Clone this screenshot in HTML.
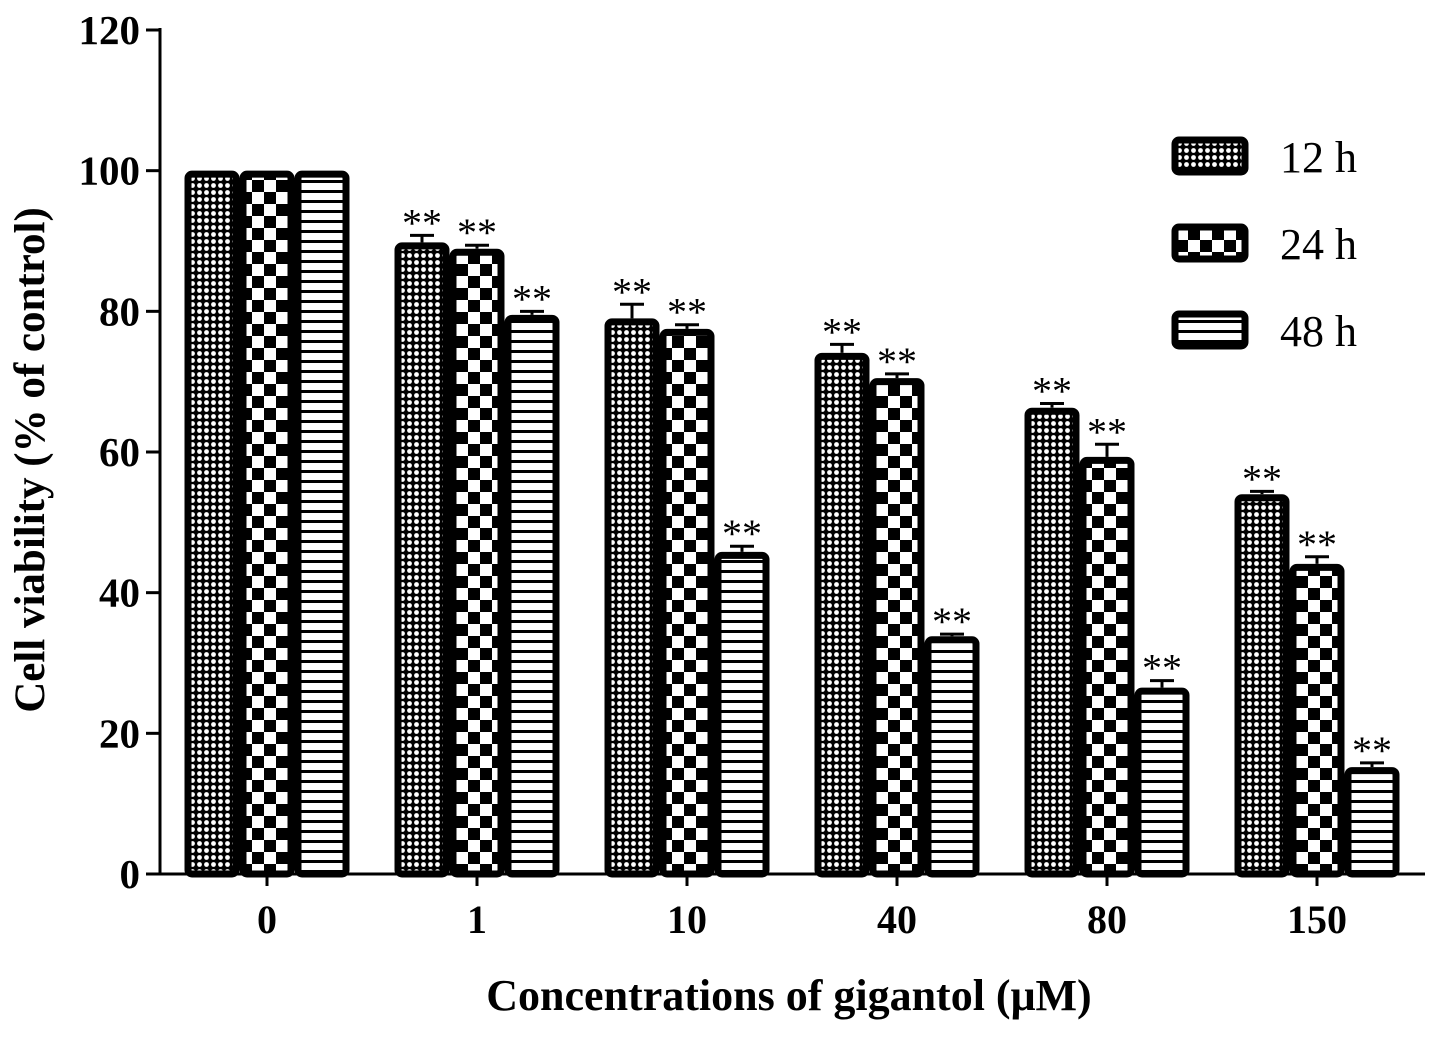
<!DOCTYPE html>
<html><head><meta charset="utf-8"><style>
html,body{margin:0;padding:0;background:#fff;}
text{font-family:"Liberation Serif",serif;}
</style></head><body>
<svg id="chart" width="1441" height="1032" viewBox="0 0 1441 1032" xmlns="http://www.w3.org/2000/svg">
<defs>
<pattern id="p12" width="7" height="7" patternUnits="userSpaceOnUse">
<rect width="7" height="7" fill="#000"/><circle cx="3.5" cy="3.5" r="2.4" fill="#fff"/>
</pattern>
<pattern id="p24" width="24" height="24" patternUnits="userSpaceOnUse">
<rect width="24" height="24" fill="#fff"/><rect x="0" y="0" width="12" height="12" fill="#000"/><rect x="12" y="12" width="12" height="12" fill="#000"/>
</pattern>
<pattern id="p48" width="10" height="10" patternUnits="userSpaceOnUse">
<rect width="10" height="10" fill="#fff"/><rect y="0" width="10" height="3" fill="#000"/>
</pattern>
</defs>
<g id="bars"></g>
<g id="axes"></g>
<g id="legend"></g>
<text x="0" y="0" transform="translate(44,460) rotate(-90)" text-anchor="middle" font-size="43" font-weight="bold">Cell viability (% of control)</text>
<text x="789" y="1010" text-anchor="middle" font-size="44" font-weight="bold">Concentrations of gigantol (μM)</text>
</svg>
<script>
const categories = ["0","1","10","40","80","150"];
const series = ["12 h","24 h","48 h"];
const v12 = [100, 89.8, 79, 74.1, 66.3, 54];
const v24 = [100, 88.9, 77.5, 70.5, 59.3, 44.1];
const v48 = [100, 79.5, 45.8, 33.8, 26.5, 15.2];
const e12 = [0, 1, 2, 1.2, 0.6, 0.4];
const e24 = [0, 0.5, 0.6, 0.6, 1.8, 1];
const e48 = [0, 0.5, 0.8, 0.3, 1, 0.6];
const sig12 = [false,true,true,true,true,true];
const sig24 = [false,true,true,true,true,true];
const sig48 = [false,true,true,true,true,true];
const yTicks = [0,20,40,60,80,100,120];

const NS="http://www.w3.org/2000/svg";
const y0=874, yTop=30, yMax=120;
const yS = v => y0 - v/yMax*(y0-yTop);
const xC = i => 267 + i*210;
const bw = 55;
function mk(tag, attrs, parent){const e=document.createElementNS(NS,tag);for(const k in attrs)e.setAttribute(k,attrs[k]);parent.appendChild(e);return e;}
const bars=document.getElementById('bars'), axes=document.getElementById('axes'), leg=document.getElementById('legend');
const vals=[v12,v24,v48], errs=[e12,e24,e48], sigs=[sig12,sig24,sig48], fills=['url(#p12)','url(#p24)','url(#p48)'];
categories.forEach((c,i)=>{
  for(let j=0;j<3;j++){
    const x = xC(i) - 1.5*bw + j*bw;
    const yv = yS(vals[j][i]);
    if(errs[j][i]>0){
      const ye=yS(vals[j][i]+errs[j][i]);
      const eb=mk('line',{x1:x+bw/2,x2:x+bw/2,y1:yv,y2:ye,stroke:'#000','stroke-width':3},bars);
      
      
      const cap=mk('line',{x1:x+bw/2-12,x2:x+bw/2+12,y1:ye,y2:ye,stroke:'#000','stroke-width':3},bars);
      
      
    }
    const r=mk('rect',{x:x+3.5,y:yv+3.5,width:bw-7,height:y0-yv-3.5,fill:fills[j],stroke:'#000','stroke-width':7,rx:4},bars);
    
    
    if(sigs[j][i]){
      const t=mk('text',{x:x+bw/2,y:yS(vals[j][i]+errs[j][i])+1,'text-anchor':'middle','font-size':40},bars);
      t.textContent='**';
      
      
    }
  }
  const tl=mk('text',{x:xC(i),y:933,'text-anchor':'middle','font-size':40,'font-weight':'bold'},axes);
  tl.textContent=c;
  
  
  const tk=mk('line',{x1:xC(i),x2:xC(i),y1:y0,y2:y0+12,stroke:'#000','stroke-width':3},axes);
  
  
});
const ya=mk('line',{x1:160,x2:160,y1:yTop-2,y2:y0+1.5,stroke:'#000','stroke-width':3},axes);


const xa=mk('line',{x1:158.5,x2:1425,y1:y0,y2:y0,stroke:'#000','stroke-width':3},axes);


yTicks.forEach(v=>{
  const t=mk('line',{x1:146,x2:160,y1:yS(v),y2:yS(v),stroke:'#000','stroke-width':3},axes);
  
  
  const l=mk('text',{x:140,y:yS(v)+14,'text-anchor':'end','font-size':41,'font-weight':'bold'},axes);
  l.textContent=v;
  
  
});
series.forEach((s,j)=>{
  const y=140+j*87;
  const r=mk('rect',{x:1175,y:y,width:70,height:32,fill:fills[j],stroke:'#000','stroke-width':7,rx:4},leg);
  
  
  const t=mk('text',{x:1280,y:y+32,'font-size':44},leg);
  t.textContent=s;
  
  
});
</script>
</body></html>
